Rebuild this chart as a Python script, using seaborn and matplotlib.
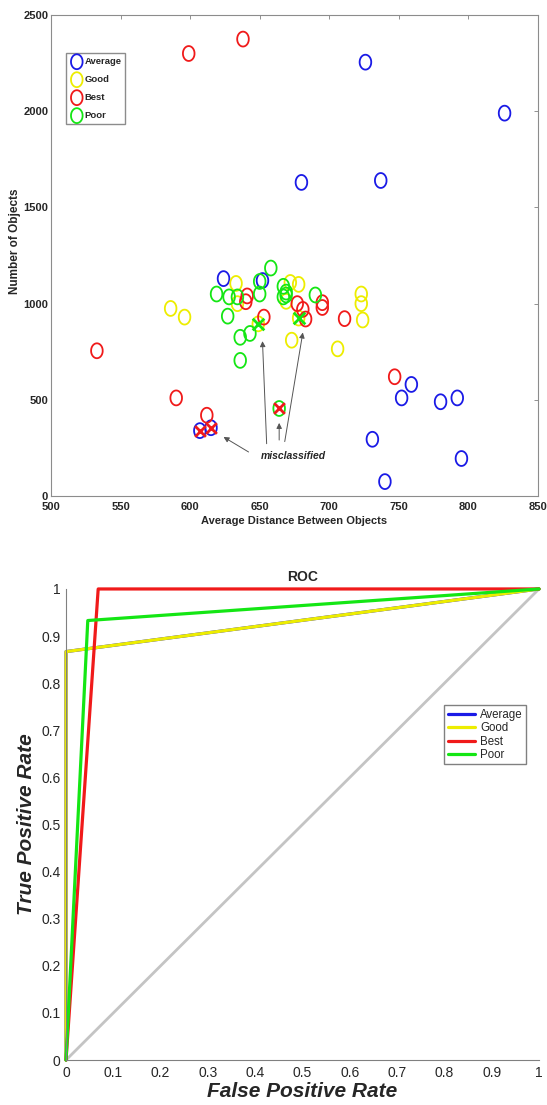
import numpy as np
import pandas as pd
import matplotlib
matplotlib.use("Agg")
import matplotlib.pyplot as plt
from matplotlib.path import Path
import seaborn as sns

# classes and their colours
class_names = ["Average", "Good", "Best", "Poor"]
class_colors = ["#1a1ae6", "#eded00", "#f01a1a", "#14e614"]

# scatter: average distance between objects vs number of objects
avg_dist = [726, 826, 680, 737, 624, 652, 759, 752, 780, 792, 731, 795, 740, 607, 615]
avg_count = [2255, 1990, 1630, 1640, 1130, 1120, 580, 510, 490, 510, 295, 195, 75, 340, 355]

good_dist = [586, 596, 633, 634, 649, 669, 672, 678, 673, 678, 706, 723, 723, 724]
good_count = [975, 930, 1105, 1000, 895, 1012, 1110, 1100, 810, 925, 765, 1050, 1000, 915]

best_dist = [599, 638, 533, 590, 612, 641, 640, 653, 677, 681, 683, 695, 695, 711, 747]
best_count = [2300, 2375, 755, 510, 420, 1040, 1010, 930, 1000, 970, 920, 1005, 980, 922, 620]

poor_dist = [619, 628, 634, 627, 636, 643, 636, 650, 650, 658, 667, 669, 667, 669, 690, 664]
poor_count = [1050, 1035, 1035, 935, 825, 845, 705, 1050, 1115, 1185, 1090, 1060, 1035, 1045, 1045, 455]

# misclassified samples (red and green crosses)
miss_red_dist = [607, 615, 664]
miss_red_count = [340, 355, 455]
miss_green_dist = [649, 678]
miss_green_count = [895, 925]

# annotation arrows (tail -> head) and label
arrow_tails = [(642, 229), (664, 291), (655, 272), (668, 283)]
arrow_heads = [(624, 307), (664, 380), (652, 805), (681, 850)]
note_text = "misclassified"
note_pos = (674, 208)

# ROC curves
avg_fpr, avg_tpr = [0, 0, 1], [0, 0.867, 1]
good_fpr, good_tpr = [0, 0, 1], [0, 0.867, 1]
best_fpr, best_tpr = [0, 0.068, 1], [0, 1, 1]
poor_fpr, poor_tpr = [0, 0.046, 1], [0, 0.933, 1]
diag = [0, 1]
roc_ticks = [0, 0.1, 0.2, 0.3, 0.4, 0.5, 0.6, 0.7, 0.8, 0.9, 1]
roc_ticklabels = ["0", "0.1", "0.2", "0.3", "0.4", "0.5", "0.6", "0.7", "0.8", "0.9", "1"]

sns.set_style("white")
plt.rcParams["font.family"] = ["Liberation Sans", "DejaVu Sans"]

fig = plt.figure(figsize=(5.47, 11.05), dpi=100)
ax1 = fig.add_axes([0.0932, 0.5511, 0.8903, 0.4353])
ax2 = fig.add_axes([0.1207, 0.0407, 0.8647, 0.4263])

# slightly tall open ring, like the stretched circles of the original
theta = np.linspace(0, 2 * np.pi, 61)
ring = Path(np.column_stack([0.78 * np.cos(theta), np.sin(theta)]))

df = pd.DataFrame({
    "dist": avg_dist + good_dist + best_dist + poor_dist,
    "count": avg_count + good_count + best_count + poor_count,
    "cls": (["Average"] * len(avg_dist) + ["Good"] * len(good_dist)
            + ["Best"] * len(best_dist) + ["Poor"] * len(poor_dist)),
})

for name, col in zip(class_names, class_colors):
    sub = df[df["cls"] == name]
    sns.scatterplot(data=sub, x="dist", y="count", marker=ring, s=115,
                    color=col, facecolor="none", edgecolor=col,
                    linewidth=1.3, label=name, ax=ax1, zorder=3)

sns.scatterplot(x=miss_red_dist, y=miss_red_count, marker="x", s=60,
                color=class_colors[2], edgecolor=None, linewidth=2,
                legend=False, ax=ax1, zorder=4)
sns.scatterplot(x=miss_green_dist, y=miss_green_count, marker="x", s=70,
                color=class_colors[3], edgecolor=None, linewidth=2,
                legend=False, ax=ax1, zorder=4)

for tail, head in zip(arrow_tails, arrow_heads):
    ax1.annotate("", xy=head, xytext=tail,
                 arrowprops=dict(arrowstyle="-|>", color="#555555", lw=0.7,
                                 mutation_scale=8, shrinkA=0, shrinkB=0))
ax1.text(note_pos[0], note_pos[1], note_text, ha="center", va="center",
         fontsize=7.5, fontweight="bold", fontstyle="italic")

ax1.set_xlim(500, 850)
ax1.set_ylim(0, 2500)
ax1.set_xticks(np.arange(500, 851, 50))
ax1.set_yticks(np.arange(0, 2501, 500))
ax1.tick_params(direction="in", top=True, right=True, length=3, width=0.6,
                color="#808080", labelsize=8)
ax1.tick_params(axis="x", pad=4)
ax1.tick_params(axis="y", pad=2)
for lbl in ax1.get_xticklabels() + ax1.get_yticklabels():
    lbl.set_fontweight("bold")
for sp in ax1.spines.values():
    sp.set_visible(True)
    sp.set_color("#8c8c8c")
    sp.set_linewidth(0.8)
ax1.set_xlabel("Average Distance Between Objects", fontsize=8,
               fontweight="bold", labelpad=3)
ax1.set_ylabel("Number of Objects", fontsize=8.5, fontweight="bold")
ax1.yaxis.set_label_coords(-0.062, 0.53)
ax1.legend(loc="upper left", bbox_to_anchor=(0.022, 0.93),
           prop=dict(weight="bold", size=6.8), handletextpad=0.1,
           borderpad=0.4, labelspacing=0.95, handlelength=1.4,
           fancybox=False, edgecolor="#8c8c8c", framealpha=1)

# ROC plot
sns.lineplot(x=diag, y=diag, color="#c4c4c4", linewidth=2, legend=False,
             ax=ax2, zorder=1)
roc_curves = [(avg_fpr, avg_tpr), (good_fpr, good_tpr),
              (best_fpr, best_tpr), (poor_fpr, poor_tpr)]
for name, col, (fpr, tpr) in zip(class_names, class_colors, roc_curves):
    sns.lineplot(x=fpr, y=tpr, sort=False, estimator=None, color=col,
                 linewidth=2.3, label=name, ax=ax2, clip_on=False, zorder=2)

ax2.set_xlim(0, 1)
ax2.set_ylim(0, 1)
ax2.set_xticks(roc_ticks)
ax2.set_xticklabels(roc_ticklabels)
ax2.set_yticks(roc_ticks)
ax2.set_yticklabels(roc_ticklabels)
ax2.tick_params(direction="in", length=4, width=0.7, color="#808080",
                labelsize=10, labelcolor="#262626", pad=4)
ax2.spines["top"].set_visible(False)
ax2.spines["right"].set_visible(False)
for side in ["left", "bottom"]:
    ax2.spines[side].set_color("#808080")
    ax2.spines[side].set_linewidth(0.8)
ax2.set_title("ROC", fontsize=10, fontweight="bold", pad=6)
ax2.set_xlabel("False Positive Rate", fontsize=15, fontweight="bold",
               fontstyle="italic", color="#262626", labelpad=2)
ax2.set_ylabel("True Positive Rate", fontsize=15, fontweight="bold",
               fontstyle="italic", color="#262626", labelpad=4)
ax2.legend(loc="upper right", bbox_to_anchor=(0.985, 0.765), fontsize=8.3,
           handlelength=2.4, handletextpad=0.4, labelspacing=0.12,
           borderpad=0.3, fancybox=False, edgecolor="#808080", framealpha=1)

fig.savefig("out.png", dpi=100)
